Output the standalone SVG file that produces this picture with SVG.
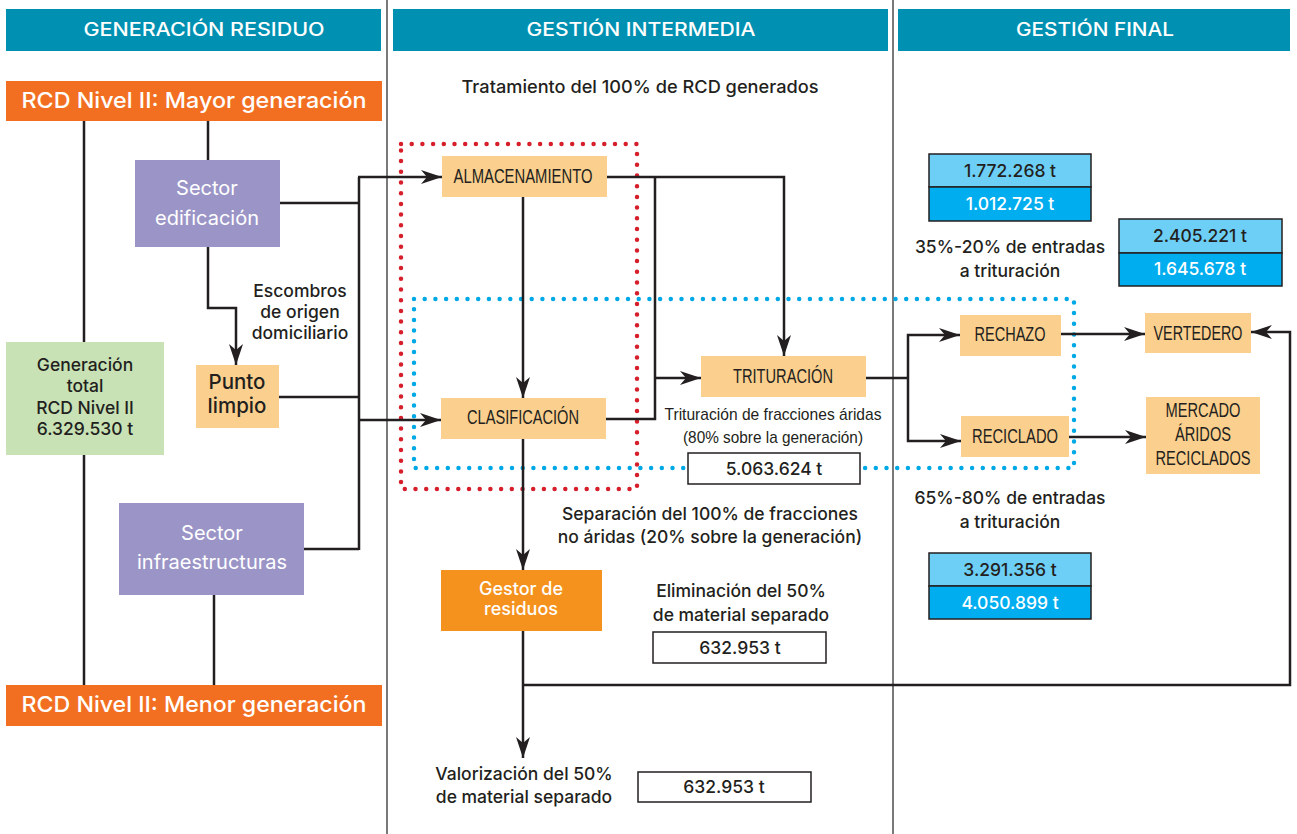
<svg xmlns="http://www.w3.org/2000/svg" width="1297" height="834" viewBox="0 0 1297 834">
<defs>
<style>
text{font-family:Inter,"Liberation Sans",Arial,sans-serif;font-weight:500;fill:#231F20;text-anchor:middle}
.hdr{fill:#0091B2}
.hdrt{fill:#fff;font-size:18px}
.rcd{fill:#F26F21}
.rcdt{fill:#fff;font-size:22px}
.sector{fill:#9B95C7}
.sect{fill:#fff;font-size:20px;font-weight:400}
.peach{fill:#FBCF8D}
.cond{font-family:"Liberation Sans Narrow","Liberation Sans",Arial,sans-serif;font-weight:400;font-size:20px}
.body{font-size:17.5px}
.vbox{fill:#fff;stroke:#231F20;stroke-width:1.5}
.lb{fill:#6DCFF6;stroke:#231F20;stroke-width:1.5}
.db{fill:#00AEEF;stroke:#231F20;stroke-width:1.5}
.wt{fill:#fff}
.sep{stroke:#4D4D4D;stroke-width:1.5;fill:none}
.con{stroke:#231F20;stroke-width:2.5;fill:none}
.arr{marker-end:url(#ah)}
</style>
<marker id="ah" markerUnits="userSpaceOnUse" markerWidth="24" markerHeight="16" refX="21" refY="7" orient="auto">
<path d="M0,0 L21,7 L0,14 L6,7 z" fill="#231F20"/>
</marker>
</defs>

<g id="separators">
<line class="sep" x1="387" y1="0" x2="387" y2="834"/>
<line class="sep" x1="893" y1="0" x2="893" y2="834"/>
</g>

<g id="headers">
<g id="hdr-generacion"><rect class="hdr" x="6" y="9" width="375" height="42"/><text class="hdrt" x="204" y="36" textLength="241" lengthAdjust="spacingAndGlyphs">GENERACIÓN RESIDUO</text></g>
<g id="hdr-intermedia"><rect class="hdr" x="393" y="9" width="495" height="42"/><text class="hdrt" x="641" y="36" textLength="229" lengthAdjust="spacingAndGlyphs">GESTIÓN INTERMEDIA</text></g>
<g id="hdr-final"><rect class="hdr" x="898" y="9" width="392" height="42"/><text class="hdrt" x="1095" y="36" textLength="158" lengthAdjust="spacingAndGlyphs">GESTIÓN FINAL</text></g>
</g>

<g id="zones">
<rect x="401" y="144" width="236" height="345" fill="none" stroke="#D71F2B" stroke-width="4.5" stroke-linecap="round" stroke-dasharray="0 10.7"/>
<rect x="414" y="299" width="660" height="169" fill="none" stroke="#00A9E6" stroke-width="4.5" stroke-linecap="round" stroke-dasharray="0 10.7"/>
</g>

<g id="connectors">
<line class="con" x1="84" y1="121" x2="84" y2="685"/>
<line class="con" x1="208" y1="121" x2="208" y2="160"/>
<polyline class="con arr" points="208,247 208,308 236,308 236,365"/>
<line class="con" x1="214" y1="595" x2="214" y2="685"/>
<line class="con" x1="280" y1="203" x2="359" y2="203"/>
<line class="con" x1="279" y1="397" x2="359" y2="397"/>
<line class="con" x1="304" y1="549" x2="359" y2="549"/>
<line class="con" x1="359" y1="177" x2="359" y2="550"/>
<line class="con arr" x1="358" y1="177" x2="442" y2="177"/>
<line class="con arr" x1="359" y1="420" x2="441" y2="420"/>
<line class="con arr" x1="523" y1="197" x2="523" y2="398"/>
<polyline class="con arr" points="607,177 784,177 784,356"/>
<polyline class="con" points="606,419 655,419 655,177"/>
<line class="con arr" x1="655" y1="378" x2="701" y2="378"/>
<line class="con" x1="866" y1="378" x2="908" y2="378"/>
<polyline class="con arr" points="908,378 908,335 960,335"/>
<polyline class="con arr" points="908,378 908,441 961,441"/>
<line class="con arr" x1="1061" y1="334" x2="1145" y2="334"/>
<line class="con arr" x1="1069" y1="437" x2="1146" y2="437"/>
<line class="con arr" x1="523" y1="439" x2="523" y2="570"/>
<line class="con arr" x1="523" y1="631" x2="523" y2="758"/>
<polyline class="con arr" points="523,685 1290,685 1290,332 1251,332"/>
</g>

<g id="rcd-mayor"><rect class="rcd" x="6" y="81" width="376" height="40"/><text class="rcdt" x="194" y="108" textLength="345" lengthAdjust="spacingAndGlyphs">RCD Nivel II: Mayor generación</text></g>
<g id="rcd-menor"><rect class="rcd" x="6" y="685" width="376" height="41"/><text class="rcdt" x="194" y="712" textLength="345" lengthAdjust="spacingAndGlyphs">RCD Nivel II: Menor generación</text></g>

<g id="sector-edificacion"><rect class="sector" x="135" y="160" width="145" height="87"/><text class="sect" x="207" y="195">Sector</text><text class="sect" x="207" y="225">edificación</text></g>
<g id="sector-infraestructuras"><rect class="sector" x="119" y="503" width="185" height="92"/><text class="sect" x="212" y="540">Sector</text><text class="sect" x="212" y="569">infraestructuras</text></g>

<g id="generacion-total"><rect x="6" y="342" width="158" height="113" fill="#C8E2B5"/>
<text class="body" x="85" y="371">Generación</text><text class="body" x="85" y="392">total</text><text class="body" x="85" y="414">RCD Nivel II</text><text class="body" x="85" y="435">6.329.530 t</text></g>

<g id="punto-limpio"><rect class="peach" x="196" y="365" width="83" height="63"/><text x="237" y="389" font-size="20.5">Punto</text><text x="237" y="413" font-size="20.5">limpio</text></g>

<g id="escombros-label"><text class="body" x="300" y="297">Escombros</text><text class="body" x="300" y="318">de origen</text><text class="body" x="300" y="339">domiciliario</text></g>

<g id="tratamiento-label"><text class="body" x="640" y="93" textLength="357" lengthAdjust="spacingAndGlyphs">Tratamiento del 100% de RCD generados</text></g>

<g id="almacenamiento"><rect class="peach" x="442" y="156" width="165" height="41"/><text class="cond" x="523" y="183" textLength="139" lengthAdjust="spacingAndGlyphs">ALMACENAMIENTO</text></g>
<g id="clasificacion"><rect class="peach" x="441" y="398" width="165" height="41"/><text class="cond" x="523" y="424" textLength="112" lengthAdjust="spacingAndGlyphs">CLASIFICACIÓN</text></g>
<g id="trituracion"><rect class="peach" x="701" y="356" width="165" height="41"/><text class="cond" x="783" y="383" textLength="100" lengthAdjust="spacingAndGlyphs">TRITURACIÓN</text></g>

<g id="trituracion-label">
<text x="773" y="420" font-size="17" style="font-family:'Liberation Sans Narrow','Liberation Sans',Arial,sans-serif;font-weight:400" textLength="217" lengthAdjust="spacingAndGlyphs">Trituración de fracciones áridas</text>
<text x="773" y="443" font-size="17" style="font-family:'Liberation Sans Narrow','Liberation Sans',Arial,sans-serif;font-weight:400" textLength="180" lengthAdjust="spacingAndGlyphs">(80% sobre la generación)</text>
<rect class="vbox" x="688" y="453" width="172" height="31"/><text class="body" x="774" y="475">5.063.624 t</text>
</g>

<g id="rechazo"><rect class="peach" x="960" y="315" width="101" height="41"/><text class="cond" x="1010" y="341" textLength="71" lengthAdjust="spacingAndGlyphs">RECHAZO</text></g>
<g id="reciclado"><rect class="peach" x="961" y="416" width="108" height="41"/><text class="cond" x="1015" y="443" textLength="86" lengthAdjust="spacingAndGlyphs">RECICLADO</text></g>
<g id="vertedero"><rect class="peach" x="1145" y="313" width="106" height="40"/><text class="cond" x="1198" y="340" textLength="89" lengthAdjust="spacingAndGlyphs">VERTEDERO</text></g>
<g id="mercado"><rect class="peach" x="1146" y="397" width="114" height="77"/>
<text class="cond" x="1203" y="417" textLength="75" lengthAdjust="spacingAndGlyphs">MERCADO</text>
<text class="cond" x="1203" y="441" textLength="56" lengthAdjust="spacingAndGlyphs">ÁRIDOS</text>
<text class="cond" x="1203" y="465" textLength="95" lengthAdjust="spacingAndGlyphs">RECICLADOS</text></g>

<g id="valores-1"><rect class="lb" x="929" y="154" width="162" height="33"/><rect class="db" x="929" y="187" width="162" height="34"/>
<text class="body" x="1010" y="177">1.772.268 t</text><text class="body wt" x="1010" y="210">1.012.725 t</text></g>
<g id="label-35"><text class="body" x="1010" y="253">35%-20% de entradas</text><text class="body" x="1010" y="277">a trituración</text></g>
<g id="valores-2"><rect class="lb" x="1119" y="219" width="163" height="34"/><rect class="db" x="1119" y="253" width="163" height="33"/>
<text class="body" x="1200" y="242">2.405.221 t</text><text class="body wt" x="1200" y="275">1.645.678 t</text></g>
<g id="label-65"><text class="body" x="1010" y="504">65%-80% de entradas</text><text class="body" x="1010" y="528">a trituración</text></g>
<g id="valores-3"><rect class="lb" x="929" y="553" width="162" height="33"/><rect class="db" x="929" y="586" width="162" height="33"/>
<text class="body" x="1010" y="576">3.291.356 t</text><text class="body wt" x="1010" y="609">4.050.899 t</text></g>

<g id="separacion-label"><text class="body" x="710" y="520">Separación del 100% de fracciones</text><text class="body" x="710" y="543">no áridas (20% sobre la generación)</text></g>

<g id="gestor"><rect x="441" y="570" width="161" height="61" fill="#F5921E"/><text x="521" y="595" font-size="18" class="wt">Gestor de</text><text x="521" y="615" font-size="18" class="wt">residuos</text></g>

<g id="eliminacion"><text class="body" x="741" y="597">Eliminación del 50%</text><text class="body" x="741" y="621">de material separado</text>
<rect class="vbox" x="653" y="632" width="173" height="31"/><text class="body" x="740" y="654">632.953 t</text></g>

<g id="valorizacion"><text class="body" x="524" y="780">Valorización del 50%</text><text class="body" x="524" y="803">de material separado</text>
<rect class="vbox" x="638" y="772" width="173" height="30"/><text class="body" x="724" y="793">632.953 t</text></g>
</svg>
